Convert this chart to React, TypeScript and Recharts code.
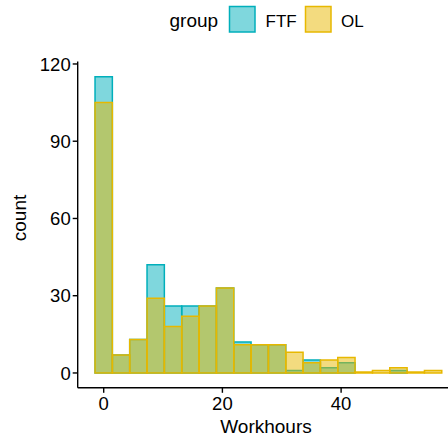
import React from "react";
import { ComposedChart, Bar, XAxis, YAxis, Legend } from "recharts";

// bin centres (Workhours) and counts per group
const binCenters = [0, 2.92, 5.84, 8.76, 11.68, 14.61, 17.53, 20.45, 23.37, 26.29, 29.21, 32.13, 35.05, 37.97, 40.89, 43.82, 46.74, 49.66, 52.58, 55.5];
const ftfCounts = [115, 7, 13, 42, 26, 26, 26, 33, 12, 11, 11, 1, 5, 2, 4, 0, 0, 1, 0, 0];
const olCounts = [105, 7, 13, 29, 18, 22, 26, 33, 11, 11, 11, 8, 4, 5, 6, 0, 1, 2, 0, 1];
const xTicks = [0, 20, 40];
const yTicks = [0, 30, 60, 90, 120];
const groups = ["FTF", "OL"];

const FONT = "'Liberation Sans', Arial, sans-serif";
const FTF_COLOR = "#00AFBB";
const OL_COLOR = "#E7B800";

const data = binCenters.map((x, i) => ({ x, FTF: ftfCounts[i], OL: olCounts[i] }));

// ggplot-style legend on top: title, then a key box + label per group
function GroupLegend() {
  const colors = [FTF_COLOR, OL_COLOR];
  const boxX = [229.5, 305.5];
  const labelX = [265.5, 341];
  return (
    <svg width={448} height={40} style={{ display: "block" }}>
      <text x={169.5} y={26.7} fontSize={19} fontFamily={FONT} fill="#000">group</text>
      {groups.map((g, i) => (
        <g key={g}>
          <rect x={boxX[i]} y={6.5} width={25.5} height={25.5} fill={colors[i]} fillOpacity={0.5} stroke={colors[i]} strokeWidth={1.5} />
          <text x={labelX[i]} y={26.7} fontSize={17} fontFamily={FONT} fill="#000">{g}</text>
        </g>
      ))}
    </svg>
  );
}

export default function App() {
  return (
    <div style={{ position: "fixed", top: 0, left: 0, width: 448, height: 438, overflow: "hidden", background: "#fff" }}>
      <ComposedChart width={460} height={438} data={data} margin={{ top: 61.5, right: 0.9, bottom: 0, left: 0 }} barGap={0} barCategoryGap={0}>
        <XAxis
          xAxisId="a"
          dataKey="x"
          type="number"
          domain={[-4.38, 59.88]}
          allowDataOverflow
          ticks={xTicks}
          height={50.2}
          tickSize={5}
          tickMargin={4}
          stroke="#000"
          strokeWidth={1.4}
          tick={{ fill: "#000", fontSize: 18.5, fontFamily: FONT }}
          label={() => (
            <text x={266} y={433} textAnchor="middle" fill="#000" fontSize={19} fontFamily={FONT}>Workhours</text>
          )}
        />
        <XAxis xAxisId="b" dataKey="x" type="number" domain={[-4.38, 59.88]} allowDataOverflow hide />
        <YAxis
          type="number"
          domain={[-5.76, 120.96]}
          allowDataOverflow
          ticks={yTicks}
          width={77.7}
          tickSize={5}
          stroke="#000"
          strokeWidth={1.4}
          tick={{ fill: "#000", fontSize: 18.5, fontFamily: FONT }}
          label={() => (
            <text x={26} y={218} transform="rotate(-90, 26, 218)" textAnchor="middle" fill="#000" fontSize={19} fontFamily={FONT}>count</text>
          )}
        />
        <Legend verticalAlign="top" content={() => <GroupLegend />} wrapperStyle={{ top: 0, left: 0, width: 448, height: 0 }} />
        <Bar xAxisId="a" dataKey="FTF" barSize={17.33} fill={FTF_COLOR} fillOpacity={0.5} stroke={FTF_COLOR} strokeWidth={1.5} isAnimationActive={false} />
        <Bar xAxisId="b" dataKey="OL" barSize={17.33} fill={OL_COLOR} fillOpacity={0.5} stroke={OL_COLOR} strokeWidth={1.5} minPointSize={1} isAnimationActive={false} />
      </ComposedChart>
    </div>
  );
}
